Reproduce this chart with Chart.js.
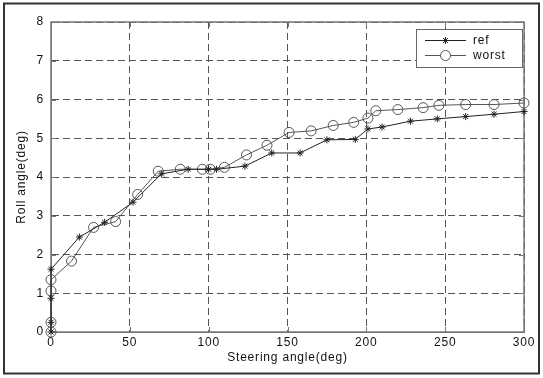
<!DOCTYPE html>
<html>
<head>
<meta charset="utf-8">
<title>Roll angle vs steering angle</title>
<script src="https://cdn.jsdelivr.net/npm/chart.js@4.4.0/dist/chart.umd.min.js"></script>
<style>
    html, body { margin: 0; padding: 0; background: #fff; }
    #wrap { width: 543px; height: 378px; position: relative; }
</style>
</head>
<body>
<div id="wrap"><canvas id="rollChart" width="543" height="378"></canvas></div>
<script>
// Data
const refSteer = [0, 0, 0, 0, 18, 34, 52, 70, 87, 100, 105, 123, 140, 158, 175, 193, 201, 210, 228, 245, 263, 281, 300];
const refRoll = [0, 0.25, 0.87, 1.62, 2.45, 2.83, 3.35, 4.08, 4.2, 4.2, 4.2, 4.28, 4.62, 4.62, 4.96, 4.97, 5.24, 5.29, 5.44, 5.5, 5.56, 5.62, 5.69];

const worstSteer = [0, 0, 0, 0, 13, 27, 41, 55, 68, 82, 96, 101, 110, 124, 137, 151, 165, 179, 192, 201, 206, 220, 236, 246, 263, 281, 300];
const worstRoll = [0, 0.25, 1.06, 1.35, 1.83, 2.7, 2.85, 3.55, 4.15, 4.2, 4.2, 4.2, 4.25, 4.57, 4.82, 5.15, 5.19, 5.33, 5.41, 5.52, 5.71, 5.74, 5.79, 5.85, 5.87, 5.87, 5.91];

const xTicks = [0, 50, 100, 150, 200, 250, 300];
const yTicks = [0, 1, 2, 3, 4, 5, 6, 7, 8];

const FONT = 'Liberation Sans, Arial, Helvetica, sans-serif';
const SPACING = '0.8px';

function toPoints(xs, ys) {
    return xs.map((x, i) => ({ x: x, y: ys[i] }));
}

// Outer frame, axes box, inward ticks and legend (MATLAB look)
const matlabBox = {
    id: 'matlabBox',
    beforeUpdate(chart) {
        chart.ctx.letterSpacing = SPACING;
    },
    beforeDraw(chart) {
        // canvas resize resets the context, so set the spacing again here
        chart.ctx.letterSpacing = SPACING;
    },
    beforeDatasetsDraw(chart) {
        const { ctx, chartArea: a, scales } = chart;
        ctx.save();
        ctx.strokeStyle = '#777';
        ctx.lineWidth = 1;
        ctx.beginPath();
        xTicks.forEach(v => {
            const px = Math.round(scales.x.getPixelForValue(v)) + 0.5;
            ctx.moveTo(px, a.bottom); ctx.lineTo(px, a.bottom - 5);
            ctx.moveTo(px, a.top); ctx.lineTo(px, a.top + 5);
        });
        yTicks.forEach(v => {
            const py = Math.round(scales.y.getPixelForValue(v)) + 0.5;
            ctx.moveTo(a.left, py); ctx.lineTo(a.left + 5, py);
            ctx.moveTo(a.right, py); ctx.lineTo(a.right - 5, py);
        });
        ctx.stroke();
        ctx.lineWidth = 1.5;
        ctx.strokeRect(a.left, a.top, a.right - a.left, a.bottom - a.top);
        ctx.restore();
    },
    afterDraw(chart) {
        const { ctx, chartArea: a } = chart;
        ctx.save();
        // outer frame
        ctx.strokeStyle = '#333';
        ctx.lineWidth = 2;
        ctx.strokeRect(4, 3.5, 535, 370);

        // legend box
        const w = 106, h = 38;
        const bx = a.right - w - 2, by = a.top + 7;
        ctx.fillStyle = '#fff';
        ctx.fillRect(bx, by, w, h);
        ctx.strokeStyle = '#666';
        ctx.lineWidth = 1;
        ctx.strokeRect(bx + 0.5, by + 0.5, w, h);

        chart.data.datasets.forEach((ds, i) => {
            const ly = by + 11 + i * 15;
            const x0 = bx + 9, x1 = bx + 50;
            ctx.strokeStyle = ds.borderColor;
            ctx.lineWidth = 1;
            ctx.beginPath();
            ctx.moveTo(x0, ly + 0.5);
            ctx.lineTo(x1, ly + 0.5);
            ctx.stroke();
            ctx.fillStyle = '#fff';
            Chart.helpers.drawPoint(ctx, {
                pointStyle: ds.pointStyle,
                radius: ds.pointRadius,
                borderWidth: 1,
                rotation: 0
            }, (x0 + x1) / 2, ly + 0.5);
            ctx.fillStyle = '#111';
            ctx.font = '12px ' + FONT;
            ctx.textBaseline = 'middle';
            ctx.textAlign = 'left';
            ctx.fillText(ds.label, bx + 57, ly + 1);
        });
        ctx.restore();
    }
};

document.addEventListener('DOMContentLoaded', function() {
    const rollCtx = document.getElementById('rollChart').getContext('2d');
    const rollChart = new Chart(rollCtx, {
        type: 'line',
        data: {
            datasets: [
                {
                    label: 'ref',
                    data: toPoints(refSteer, refRoll),
                    borderColor: '#222',
                    backgroundColor: 'transparent',
                    borderWidth: 1,
                    pointStyle: 'star',
                    pointRadius: 3.5,
                    pointBorderColor: '#222',
                    pointBorderWidth: 1,
                    tension: 0,
                    clip: false
                },
                {
                    label: 'worst',
                    data: toPoints(worstSteer, worstRoll),
                    borderColor: '#555',
                    backgroundColor: 'transparent',
                    borderWidth: 1,
                    pointStyle: 'circle',
                    pointRadius: 5,
                    pointBorderColor: '#555',
                    pointBackgroundColor: 'transparent',
                    pointBorderWidth: 1,
                    tension: 0,
                    clip: false
                }
            ]
        },
        options: {
            responsive: false,
            animation: false,
            layout: {
                padding: { left: 0, top: 22, right: 19, bottom: 0 }
            },
            plugins: {
                legend: { display: false },
                tooltip: { enabled: false }
            },
            scales: {
                x: {
                    type: 'linear',
                    min: 0,
                    max: 300,
                    afterFit: function(scale) { scale.height = 46; },
                    afterBuildTicks: function(scale) {
                        scale.ticks = xTicks.map(v => ({ value: v }));
                    },
                    grid: {
                        color: '#555',
                        lineWidth: 1,
                        drawTicks: false,
                        tickLength: 0
                    },
                    border: { display: true, color: '#777', dash: [7, 4] },
                    ticks: {
                        padding: 3,
                        color: '#111',
                        font: { family: FONT, size: 12 }
                    },
                    title: {
                        display: true,
                        text: 'Steering angle(deg)',
                        color: '#111',
                        font: { family: FONT, size: 12 },
                        padding: { top: 0, bottom: 13 }
                    }
                },
                y: {
                    type: 'linear',
                    min: 0,
                    max: 8,
                    afterFit: function(scale) { scale.width = 51; },
                    afterBuildTicks: function(scale) {
                        scale.ticks = yTicks.map(v => ({ value: v }));
                    },
                    grid: {
                        color: '#555',
                        lineWidth: 1,
                        drawTicks: false,
                        tickLength: 0
                    },
                    border: { display: true, color: '#777', dash: [7, 4] },
                    ticks: {
                        padding: 7,
                        color: '#111',
                        font: { family: FONT, size: 12 }
                    },
                    title: {
                        display: true,
                        text: 'Roll angle(deg)',
                        color: '#111',
                        font: { family: FONT, size: 12 },
                        padding: { top: 14, bottom: 0 }
                    }
                }
            }
        },
        plugins: [matlabBox]
    });
});
</script>
</body>
</html>
